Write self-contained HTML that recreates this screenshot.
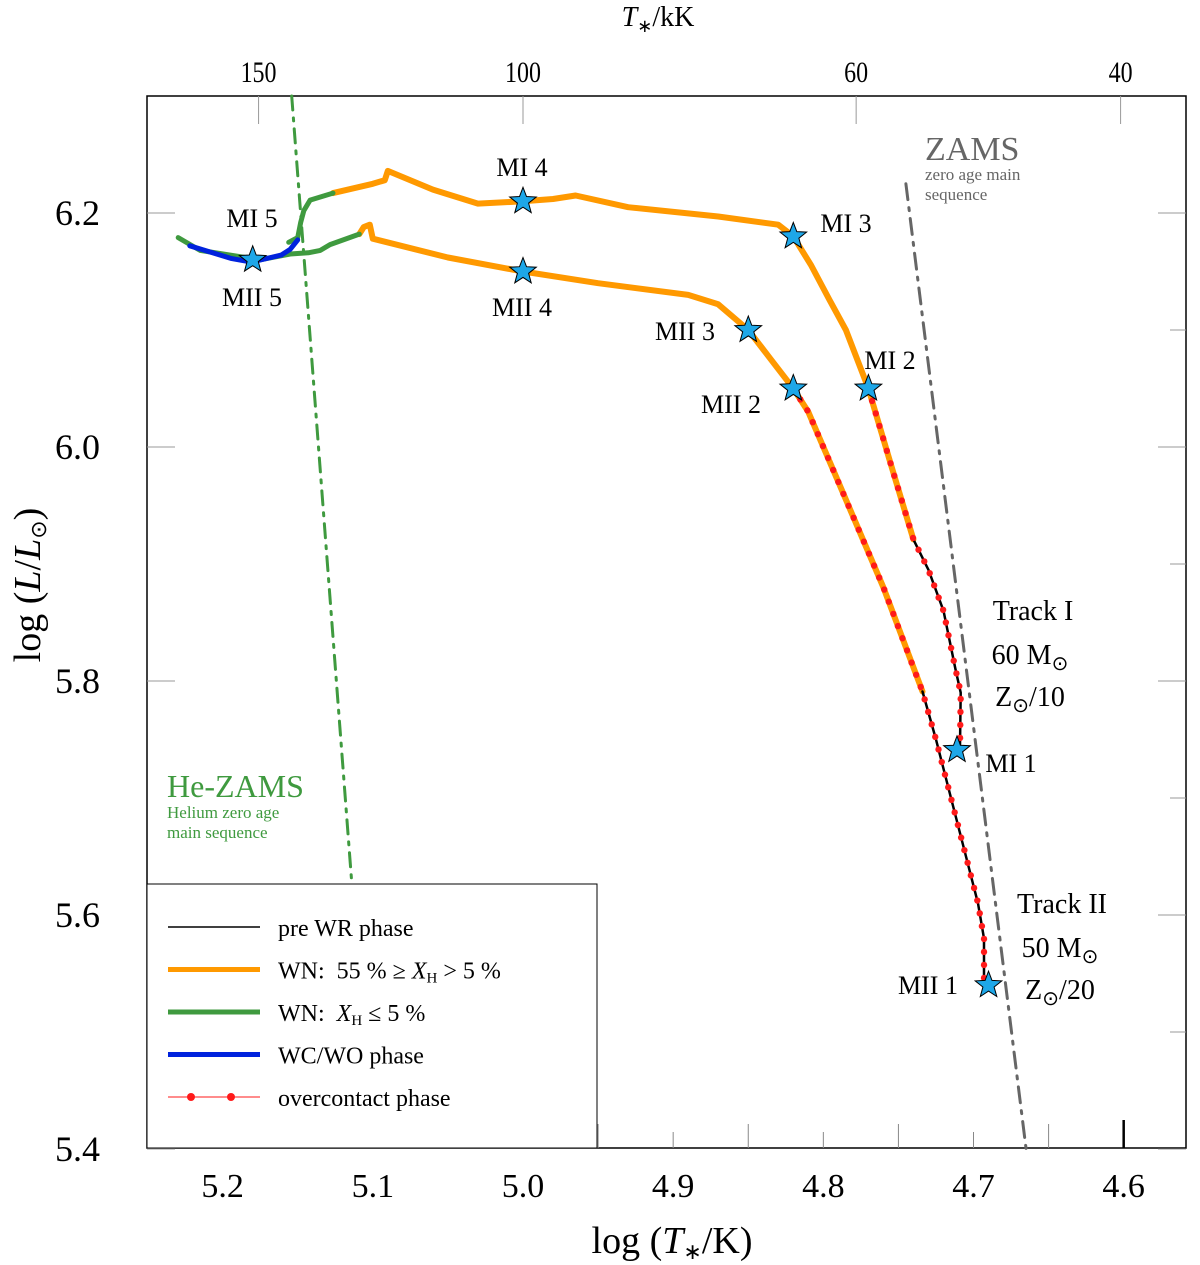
<!DOCTYPE html>
<html><head><meta charset="utf-8"><style>
html,body{margin:0;padding:0;background:#fff;}
svg{display:block;font-family:"Liberation Serif",serif;}
</style></head><body>
<svg id="chart" width="1200" height="1265" viewBox="0 0 1200 1265" xmlns="http://www.w3.org/2000/svg">
<g id="grid"></g>
<g id="marks"></g>
<g id="labels"></g>
</svg>
<script>
const NS="http://www.w3.org/2000/svg";
const X0=147,X1=1186,Y0=96,Y1=1148;
function xs(v){return 523+(5.0-v)*1501.7;}
function ys(v){return 213+(6.2-v)*1170;}

const xTicks=[5.2,5.1,5.0,4.9,4.8,4.7,4.6];
const xTickLabels=["5.2","5.1","5.0","4.9","4.8","4.7","4.6"];
const xMinorTicks=[5.15,5.05,4.95,4.85,4.75,4.65];
const yTicks=[6.2,6.0,5.8,5.6,5.4];
const yTickLabels=["6.2","6.0","5.8","5.6","5.4"];
const yMinorTicks=[6.1,5.9,5.7,5.5];
const topTicksKK=[150,100,60,40];

const trackIPre=[[4.709,5.745],[4.7085,5.79],[4.712,5.81],[4.72,5.86],[4.730,5.895],[4.740,5.921]];
const trackIWN=[[4.740,5.921],[4.755,5.985],[4.77,6.05],[4.785,6.10],[4.796,6.126],[4.808,6.155],[4.82,6.18],[4.83,6.19],[4.87,6.197],[4.93,6.205],[4.965,6.215],[4.98,6.212],[5.0,6.21],[5.03,6.208],[5.06,6.22],[5.09,6.236],[5.092,6.228],[5.10,6.225],[5.1265,6.217]];
const trackIWNH0=[[5.1265,6.217],[5.1418,6.211],[5.146,6.202],[5.148,6.192],[5.150,6.179],[5.156,6.175]];
const trackIIPre=[[4.693,5.54],[4.693,5.58],[4.697,5.61],[4.705,5.65],[4.715,5.70],[4.725,5.75],[4.734,5.791]];
const trackIIWN=[[4.734,5.791],[4.76,5.88],[4.79,5.97],[4.81,6.03],[4.82,6.05],[4.835,6.075],[4.85,6.10],[4.87,6.122],[4.89,6.13],[4.95,6.14],[5.0,6.15],[5.05,6.162],[5.10,6.178],[5.102,6.19],[5.106,6.188],[5.109,6.182]];
const trackIIWNH0=[[5.109,6.182],[5.1285,6.173],[5.135,6.168],[5.143,6.166],[5.155,6.165],[5.1751,6.16],[5.215,6.168],[5.2296,6.179]];
const trackIIWC=[[5.150,6.177],[5.155,6.169],[5.161,6.164],[5.181,6.158],[5.194,6.161],[5.2219,6.172]];
const overI=[[4.77,6.05],[4.755,5.985],[4.740,5.921],[4.730,5.895],[4.72,5.86],[4.712,5.81],[4.7085,5.79],[4.709,5.745]];
const overII=[[4.82,6.05],[4.81,6.03],[4.79,5.97],[4.76,5.88],[4.734,5.791],[4.725,5.75],[4.715,5.70],[4.705,5.65],[4.697,5.61],[4.693,5.58],[4.693,5.54]];
const zams=[[4.745,6.225],[4.665,5.4]];
const heZams=[[5.154,6.3],[5.114,5.627]];
const starNames=["MI 1","MI 2","MI 3","MI 4","MI 5","MII 1","MII 2","MII 3","MII 4"];
const starT=[4.711,4.77,4.82,5.0,5.18,4.69,4.82,4.85,5.0];
const starL=[5.741,6.05,6.18,6.21,6.16,5.54,6.05,6.10,6.15];

const grid=document.getElementById('grid'),marks=document.getElementById('marks'),labels=document.getElementById('labels');
function el(tag,attrs,parent){const e=document.createElementNS(NS,tag);for(const k in attrs)e.setAttribute(k,attrs[k]);parent.appendChild(e);return e;}
function txt(s,x,y,size,parent,anchor,fill,extra){const t=el('text',{x:x,y:y,'font-size':size,'text-anchor':anchor||'middle',fill:fill||'#000'},parent);t.innerHTML=s;if(extra)for(const k in extra)t.setAttribute(k,extra[k]);return t;}

const frame=el('rect',{x:X0,y:Y0,width:X1-X0,height:Y1-Y0,fill:'none',stroke:'#000','stroke-width':1.5},grid);



xTicks.forEach((v,i)=>{
 const l=el('line',{x1:xs(v),x2:xs(v),y1:Y1,y2:Y1-(v===4.6?28:16),stroke:v===4.6?'#000':'#888','stroke-width':v===4.6?2.5:1},grid);
 
 
 const t=txt(xTickLabels[i],xs(v),1197,34,labels);
 
 
});
xMinorTicks.forEach(v=>{
 const l=el('line',{x1:xs(v),x2:xs(v),y1:Y1,y2:Y1-24,stroke:'#888','stroke-width':1},grid);
 
 
});
yTicks.forEach((v,i)=>{
 [[X0,X0+28],[X1,X1-28]].forEach(p=>{
  const l=el('line',{x1:p[0],x2:p[1],y1:ys(v),y2:ys(v),stroke:'#999','stroke-width':1},grid);
  
  
 });
 const t=txt(yTickLabels[i],100,ys(v)+12,36,labels,'end');
 
 
});
yMinorTicks.forEach(v=>{
 const l=el('line',{x1:X1,x2:X1-16,y1:ys(v),y2:ys(v),stroke:'#999','stroke-width':1},grid);
 
 
});
topTicksKK.forEach(k=>{
 const x=xs(Math.log10(k*1000));
 const l=el('line',{x1:x,x2:x,y1:Y0,y2:Y0+28,stroke:'#999','stroke-width':1},grid);
 
 
 const t=txt(String(k),x,82,30,labels,'middle','#000',{transform:`translate(${x} 82) scale(0.8 1) translate(${-x} -82)`});
 
 
});

function pts(arr){return arr.map(p=>xs(p[0]).toFixed(1)+','+ys(p[1]).toFixed(1)).join(' ');}
function line(arr,color,w,name,dash){
 const a={points:pts(arr),fill:'none',stroke:color,'stroke-width':w,'stroke-linejoin':'round','stroke-linecap':'round'};
 if(dash)a['stroke-dasharray']=dash;
 const l=el('polyline',a,marks);
 
 
 return l;
}
line(heZams,'#3f9a3f',3,'he-zams-line','14,8,3,8');
line(zams,'#666',3,'zams-line','16,8,3,8');
line(trackIWN,'#ff9900',6,'track-1-wn-h');
line(trackIWNH0,'#3f9a3f',5,'track-1-wn-h-free');
line(trackIIWN,'#ff9900',6,'track-2-wn-h');
line(trackIIWNH0,'#3f9a3f',5,'track-2-wn-h-free');
line(trackIIWC,'#0022dd',5,'track-2-wc-wo');
line(trackIPre,'#000',2.5,'track-1-pre-wr');
line(trackIIPre,'#000',2.5,'track-2-pre-wr');

function dots(arr,name){
 let px=arr.map(p=>[xs(p[0]),ys(p[1])]);
 let acc=0;const step=13;
 for(let i=1;i<px.length;i++){
  const dx=px[i][0]-px[i-1][0],dy=px[i][1]-px[i-1][1],len=Math.hypot(dx,dy);
  let d=step-acc;
  while(d<=len){const c=el('circle',{cx:px[i-1][0]+dx*d/len,cy:px[i-1][1]+dy*d/len,r:3.2,fill:'#ff1a1a'},marks);
   
   
   d+=step;}
  acc=(acc+len)%step;
 }
}
dots(overI,'overcontact-dot-track-1');
dots(overII,'overcontact-dot-track-2');

function starPath(cx,cy,R){const r=R*0.42;let s='';for(let i=0;i<10;i++){const a=-Math.PI/2+i*Math.PI/5,rr=i%2?r:R;s+=(i?'L':'M')+(cx+rr*Math.cos(a)).toFixed(1)+','+(cy+rr*Math.sin(a)).toFixed(1);}return s+'Z';}
starNames.forEach((n,i)=>{
 const s=el('path',{d:starPath(xs(starT[i]),ys(starL[i]),14),fill:'#1ea7e8',stroke:'#000','stroke-width':1},marks);
 
 
});

const lab=[["MI 5",252,227],["MII 5",252,306],["MI 4",522,176],["MII 4",522,316],["MI 3",846,232],["MII 3",685,340],["MI 2",890,369],["MII 2",731,413],["MI 1",1011,772],["MII 1",928,994]];
lab.forEach(l=>{const t=txt(l[0],l[1],l[2],26,labels);
 
 });
const ann=[["Track I",1033,620],["60 M<tspan font-size='20' dy='6'>⊙</tspan>",1030,664],["Z<tspan font-size='20' dy='6'>⊙</tspan><tspan dy='-6'>/10</tspan>",1030,706],["Track II",1062,913],["50 M<tspan font-size='20' dy='6'>⊙</tspan>",1060,957],["Z<tspan font-size='20' dy='6'>⊙</tspan><tspan dy='-6'>/20</tspan>",1060,999]];
ann.forEach(a=>{const t=txt(a[0],a[1],a[2],28,labels);
 
 });
let t;
t=txt('ZAMS',925,160,34,labels,'start','#666');
t=txt('zero age main',925,180,17,labels,'start','#666');
t=txt('sequence',925,200,17,labels,'start','#666');
t=txt('He-ZAMS',167,797,32,labels,'start','#3f9a3f');
t=txt('Helium zero age',167,818,17,labels,'start','#3f9a3f');
t=txt('main sequence',167,838,17,labels,'start','#3f9a3f');
t=txt('log (<tspan font-style="italic">T</tspan><tspan font-size="22" dy="6">∗</tspan><tspan dy="-6">/K)</tspan>',672,1253,38,labels);
t=txt('<tspan font-style="italic">T</tspan><tspan font-size="18" dy="6">∗</tspan><tspan dy="-6">/kK</tspan>',658,26,28,labels);
t=txt('log (<tspan font-style="italic">L</tspan>/<tspan font-style="italic">L</tspan><tspan font-size="22" dy="6">⊙</tspan><tspan dy="-6">)</tspan>',0,0,38,labels,'middle','#000',{transform:'translate(40 585) rotate(-90)'});

const lg=el('g',{},labels);


const lr=el('rect',{x:147,y:884,width:450,height:264,fill:'#fff',stroke:'#000','stroke-width':1},lg);


const entries=[["pre WR phase",'#000',1.5],["WN: &#160;55 % ≥ <tspan font-style='italic'>X</tspan><tspan font-size='15' dy='4'>H</tspan><tspan dy='-4'> &gt; 5 %</tspan>",'#ff9900',5],["WN: &#160;<tspan font-style='italic'>X</tspan><tspan font-size='15' dy='4'>H</tspan><tspan dy='-4'> ≤ 5 %</tspan>",'#3f9a3f',5],["WC/WO phase",'#0022dd',5],["overcontact phase",'#ff1a1a',1]];
entries.forEach((e,i)=>{
 const y=927+i*42.5;
 const l=el('line',{x1:168,x2:260,y1:y,y2:y,stroke:e[1],'stroke-width':e[2]},lg);
 
 
 if(i===4){[191,231].forEach(cx=>{const c=el('circle',{cx:cx,cy:y,r:4,fill:'#ff1a1a'},lg);
  
  });}
 const tt=txt(e[0],278,y+9,24,lg,'start');
 
 
});
</script>
</body></html>
